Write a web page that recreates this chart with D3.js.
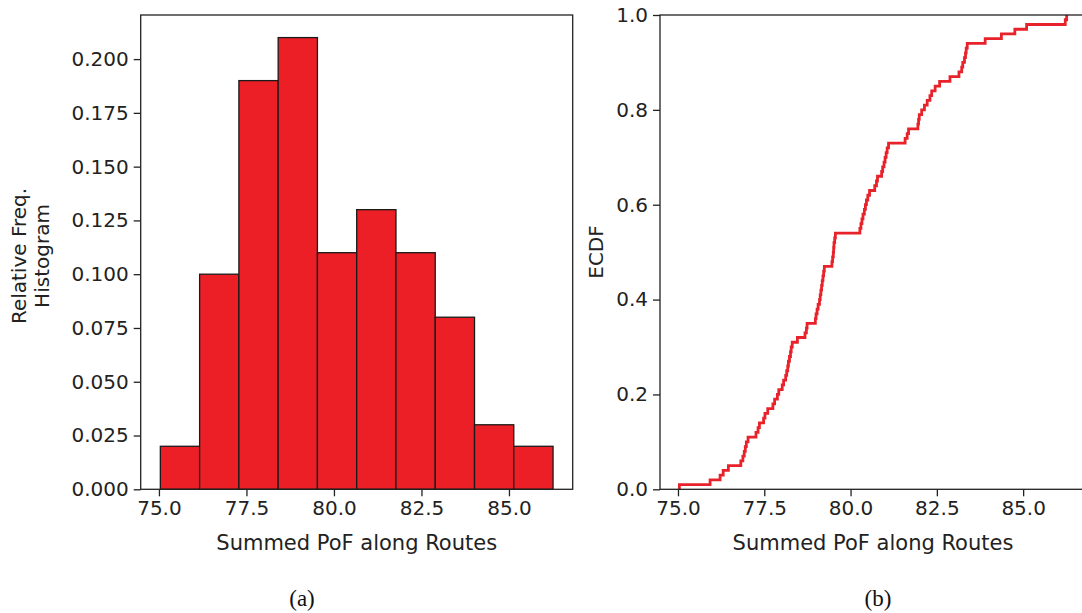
<!DOCTYPE html>
<html>
<head>
<meta charset="utf-8">
<script src="https://cdn.jsdelivr.net/npm/d3@7"></script>
<style>
  body { margin: 0; background: #fff; }
  svg { display: block; }
  .tick text { font-family: "DejaVu Sans", sans-serif; font-size: 20px; fill: #222; }
  .tick line { stroke: #222; stroke-width: 1.3; }
  .domain { display: none; }
</style>
</head>
<body>
<svg id="chart"></svg>
<script>
// histogram bins (relative frequency)
let binEdges = [75.04, 76.162, 77.284, 78.406, 79.528, 80.65, 81.772, 82.894, 84.016, 85.138, 86.26];
let histFreq = [0.02, 0.10, 0.19, 0.21, 0.11, 0.13, 0.11, 0.08, 0.03, 0.02];

// sorted samples behind the ECDF in panel (b), read step by step
let ecdfValues = [
  75.04, 75.93,
  76.22, 76.31, 76.46, 76.82, 76.88, 76.92, 76.95, 76.98, 77.03, 77.26,
  77.32, 77.36, 77.48, 77.52, 77.60, 77.75, 77.80, 77.88, 77.92, 78.02,
  78.06, 78.12, 78.15, 78.18, 78.20, 78.23, 78.26, 78.28, 78.31,
  78.46, 78.68, 78.72, 78.74, 78.98, 79.00, 79.03, 79.06, 79.10, 79.12,
  79.14, 79.16, 79.18, 79.20, 79.22, 79.24, 79.46, 79.48, 79.50, 79.51, 79.52,
  79.54, 79.56, 80.27, 80.30, 80.33, 80.36, 80.40, 80.43, 80.46, 80.50, 80.55,
  80.70, 80.75, 80.78, 80.90, 80.93, 80.97, 81.00, 81.03, 81.06, 81.10,
  81.58, 81.64, 81.68,
  81.95, 81.97, 81.99, 82.06, 82.14, 82.22, 82.30, 82.35, 82.45, 82.58, 82.88,
  83.14, 83.22, 83.25, 83.30, 83.33, 83.35, 83.38, 83.90,
  84.37, 84.76, 85.10,
  86.22, 86.26
];

let xTicks = [75.0, 77.5, 80.0, 82.5, 85.0];
let histYTicks = [0, 0.025, 0.05, 0.075, 0.1, 0.125, 0.15, 0.175, 0.2];
let ecdfYTicks = [0, 0.2, 0.4, 0.6, 0.8, 1.0];

let width = 1082,
  height = 613,
  plotTop = 15,
  plotBottom = 489.3;

let svg = d3.select("#chart")
  .attr("width", width)
  .attr("height", height);

// same x range for both panels (data range plus 5% padding)
let span = binEdges[10] - binEdges[0];
let xDomain = [binEdges[0] - span * 0.05, binEdges[10] + span * 0.05];

let fontFam = '"DejaVu Sans", sans-serif';

function frame(g, x0, x1) {
  g.append("rect")
    .attr("x", x0)
    .attr("y", plotTop)
    .attr("width", x1 - x0)
    .attr("height", plotBottom - plotTop)
    .attr("fill", "none")
    .attr("stroke", "#222")
    .attr("stroke-width", 1.3);
}

function xAxisLabel(g, cx) {
  g.append("text")
    .attr("x", cx)
    .attr("y", 550)
    .attr("text-anchor", "middle")
    .style("font-family", fontFam)
    .style("font-size", "21px")
    .style("fill", "#222")
    .text("Summed PoF along Routes");
}

// ---------- panel (a): histogram ----------
let aLeft = 140.7, aRight = 572.7;
let xA = d3.scaleLinear().domain(xDomain).range([aLeft, aRight]);
let yA = d3.scaleLinear().domain([0, d3.max(histFreq) * 1.05]).range([plotBottom, plotTop]);

let gA = svg.append("g");

gA.selectAll("rect.bar")
  .data(histFreq)
  .enter()
  .append("rect")
  .attr("class", "bar")
  .attr("x", (d, i) => xA(binEdges[i]))
  .attr("width", (d, i) => xA(binEdges[i + 1]) - xA(binEdges[i]))
  .attr("y", d => yA(d))
  .attr("height", d => plotBottom - yA(d))
  .attr("fill", "#ec1f26")
  .attr("stroke", "#1a1a1a")
  .attr("stroke-width", 1.3);

gA.append("g")
  .attr("transform", "translate(0," + plotBottom + ")")
  .call(d3.axisBottom(xA).tickValues(xTicks).tickFormat(d3.format(".1f")).tickSizeOuter(0).tickSize(7).tickPadding(5));

gA.append("g")
  .attr("transform", "translate(" + aLeft + ",0)")
  .call(d3.axisLeft(yA).tickValues(histYTicks).tickFormat(d3.format(".3f")).tickSizeOuter(0).tickSize(7).tickPadding(5));

frame(gA, aLeft, aRight);
xAxisLabel(gA, (aLeft + aRight) / 2);

let yLabA = gA.append("text")
  .attr("transform", "translate(31,256) rotate(-90)")
  .attr("text-anchor", "middle")
  .style("font-family", fontFam)
  .style("font-size", "20px")
  .style("fill", "#222");
yLabA.append("tspan").attr("x", 0).attr("dy", "-0.25em").text("Relative Freq.");
yLabA.append("tspan").attr("x", 0).attr("dy", "1.15em").text("Histogram");

// ---------- panel (b): ECDF ----------
let bLeft = 660, bRight = 1086;
let xB = d3.scaleLinear().domain(xDomain).range([bLeft, bRight]);
let yB = d3.scaleLinear().domain([0, 1]).range([plotBottom, plotTop]);

let gB = svg.append("g");

let n = ecdfValues.length;
let steps = [[ecdfValues[0], 0]].concat(ecdfValues.map((v, i) => [v, (i + 1) / n]));

gB.append("path")
  .datum(steps)
  .attr("fill", "none")
  .attr("stroke", "#e8222a")
  .attr("stroke-width", 2.8)
  .attr("d", d3.line()
    .x(d => xB(d[0]))
    .y(d => yB(d[1]))
    .curve(d3.curveStepAfter));

gB.append("g")
  .attr("transform", "translate(0," + plotBottom + ")")
  .call(d3.axisBottom(xB).tickValues(xTicks).tickFormat(d3.format(".1f")).tickSizeOuter(0).tickSize(7).tickPadding(5));

gB.append("g")
  .attr("transform", "translate(" + bLeft + ",0)")
  .call(d3.axisLeft(yB).tickValues(ecdfYTicks).tickFormat(d3.format(".1f")).tickSizeOuter(0).tickSize(7).tickPadding(5));

frame(gB, bLeft, bRight);
xAxisLabel(gB, (bLeft + bRight) / 2);

gB.append("text")
  .attr("transform", "translate(603,252) rotate(-90)")
  .attr("text-anchor", "middle")
  .style("font-family", fontFam)
  .style("font-size", "20px")
  .style("fill", "#222")
  .text("ECDF");

// panel captions
svg.selectAll("text.caption")
  .data(["(a)", "(b)"])
  .enter()
  .append("text")
  .attr("class", "caption")
  .attr("x", (d, i) => i === 0 ? 302 : 878)
  .attr("y", 606)
  .attr("text-anchor", "middle")
  .style("font-family", '"Liberation Serif", serif')
  .style("font-size", "23px")
  .style("fill", "#111")
  .text(d => d);
</script>
</body>
</html>
